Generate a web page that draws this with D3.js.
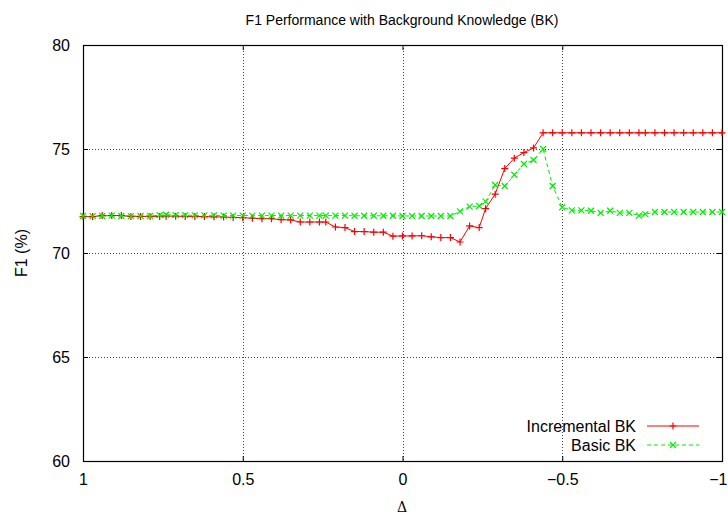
<!DOCTYPE html>
<html>
<head>
<meta charset="utf-8">
<script src="https://cdn.jsdelivr.net/npm/d3@7"></script>
<style>
  body { margin: 0; background: #fff; }
  svg text { font-family: "Liberation Sans", Arial, Helvetica, sans-serif; fill: #000; }
</style>
</head>
<body>
<svg id="chart" width="728" height="517"></svg>
<script>
// Delta values (x)
const deltas = [
  1, 0.97, 0.94, 0.91, 0.88, 0.85, 0.82, 0.79, 0.76,
  0.74, 0.71, 0.68, 0.65, 0.62, 0.59, 0.56, 0.53, 0.50,
  0.47, 0.44, 0.41, 0.38, 0.35, 0.32, 0.29, 0.26,
  0.24, 0.21, 0.18, 0.15, 0.12, 0.09, 0.06, 0.03, 0,
  -0.03, -0.06, -0.09, -0.12, -0.15, -0.18, -0.21, -0.24,
  -0.26, -0.29, -0.32, -0.35, -0.38, -0.41, -0.44, -0.47, -0.50,
  -0.53, -0.56, -0.59, -0.62, -0.65, -0.68, -0.71, -0.74,
  -0.76, -0.79, -0.82, -0.85, -0.88, -0.91, -0.94, -0.97, -1
];

const incrementalBK = [
  71.75, 71.75, 71.80, 71.80, 71.80, 71.76, 71.76, 71.76, 71.76,
  71.77, 71.77, 71.76, 71.76, 71.75, 71.74, 71.73, 71.71, 71.70,
  71.67, 71.65, 71.65, 71.60, 71.59, 71.49, 71.49, 71.49,
  71.49, 71.25, 71.22, 71.03, 71.03, 71.00, 71.00, 70.81, 70.82,
  70.82, 70.83, 70.78, 70.74, 70.74, 70.53, 71.30, 71.22,
  72.13, 72.83, 74.06, 74.56, 74.83, 75.05, 75.78, 75.78, 75.78,
  75.78, 75.78, 75.78, 75.78, 75.78, 75.78, 75.78, 75.78,
  75.78, 75.78, 75.78, 75.78, 75.78, 75.78, 75.78, 75.78, 75.78
];

const basicBK = [
  71.78, 71.77, 71.78, 71.80, 71.78, 71.77, 71.78, 71.78, 71.82,
  71.84, 71.82, 71.82, 71.81, 71.81, 71.81, 71.80, 71.80, 71.80,
  71.80, 71.80, 71.80, 71.80, 71.80, 71.80, 71.80, 71.80,
  71.80, 71.80, 71.80, 71.79, 71.79, 71.79, 71.79, 71.79, 71.78,
  71.78, 71.78, 71.78, 71.78, 71.78, 72.00, 72.23, 72.26,
  72.47, 73.27, 73.22, 73.76, 74.28, 74.47, 75.00, 73.22, 72.20,
  72.05, 72.05, 72.03, 71.93, 72.03, 71.93, 71.93, 71.80,
  71.87, 71.97, 71.97, 71.97, 71.97, 71.97, 71.97, 71.97, 71.97
];

const xTicks = [1, 0.5, 0, -0.5, -1];
const yTicks = [60, 65, 70, 75, 80];
const seriesNames = ['Incremental BK', 'Basic BK'];

const margin = {top: 45, right: 6, bottom: 56, left: 83};
const width = 728 - margin.left - margin.right;
const height = 517 - margin.top - margin.bottom;

const svg = d3.select('#chart');
const g = svg.append('g')
  .attr('transform', `translate(${margin.left},${margin.top})`);

const x = d3.scaleLinear().domain([1, -1]).range([0, width]);
const y = d3.scaleLinear().domain([60, 80]).range([height, 0]);

// dotted grid on the inner ticks only
g.append('g')
  .selectAll('line')
  .data(xTicks.slice(1, -1))
  .join('line')
  .attr('x1', d => Math.round(x(d)) + 0.5)
  .attr('x2', d => Math.round(x(d)) + 0.5)
  .attr('y1', 0)
  .attr('y2', height)
  .attr('stroke', '#444')
  .attr('stroke-dasharray', '1,2');

g.append('g')
  .selectAll('line')
  .data(yTicks.slice(1, -1))
  .join('line')
  .attr('y1', d => Math.round(y(d)) + 0.5)
  .attr('y2', d => Math.round(y(d)) + 0.5)
  .attr('x1', 0)
  .attr('x2', width)
  .attr('stroke', '#444')
  .attr('stroke-dasharray', '1,2');

// axes with inward ticks, mirrored on top and right
const xAxis = d3.axisBottom(x).tickValues(xTicks).tickSize(-5).tickPadding(13)
  .tickFormat(d3.format('~g'));
const yAxis = d3.axisLeft(y).tickValues(yTicks).tickSize(-5).tickPadding(13);

g.append('g')
  .attr('class', 'x axis')
  .attr('transform', `translate(0,${height})`)
  .call(xAxis);
g.append('g')
  .attr('class', 'y axis')
  .call(yAxis);
g.append('g')
  .call(d3.axisTop(x).tickValues(xTicks).tickSize(-5).tickFormat(''));
g.append('g')
  .attr('transform', `translate(${width},0)`)
  .call(d3.axisRight(y).tickValues(yTicks).tickSize(-5).tickFormat(''));

g.selectAll('.domain').remove();
g.selectAll('.tick line').attr('stroke', '#000');
g.selectAll('.tick text')
  .style('font-size', '16px')
  .style('font-family', '"Liberation Sans", Arial, sans-serif');

// the last x label sits against the right edge of the page
g.select('.x.axis').selectAll('.tick text')
  .filter(d => d === -1)
  .attr('text-anchor', 'end')
  .attr('dx', 5);

g.append('rect')
  .attr('x', 0.5)
  .attr('y', 0.5)
  .attr('width', width)
  .attr('height', height)
  .attr('fill', 'none')
  .attr('stroke', '#000')
  .attr('stroke-width', 1.2);

// series
const redColor = '#ff0000';
const greenColor = '#00ee00';

const line = d3.line()
  .x((d, i) => x(deltas[i]))
  .y(d => y(d));

g.append('path')
  .datum(incrementalBK)
  .attr('fill', 'none')
  .attr('stroke', redColor)
  .attr('stroke-width', 1)
  .attr('d', line);

g.append('path')
  .datum(basicBK)
  .attr('fill', 'none')
  .attr('stroke', greenColor)
  .attr('stroke-width', 1)
  .attr('stroke-dasharray', '4,3')
  .attr('d', line);

const plusPath = 'M-3.5,0H3.5M0,-3.5V3.5';
const crossPath = 'M-3,-3L3,3M-3,3L3,-3';

g.append('g')
  .selectAll('path')
  .data(incrementalBK)
  .join('path')
  .attr('transform', (d, i) => `translate(${x(deltas[i])},${y(d)})`)
  .attr('d', plusPath)
  .attr('stroke', redColor)
  .attr('stroke-width', 1.2);

g.append('g')
  .selectAll('path')
  .data(basicBK)
  .join('path')
  .attr('transform', (d, i) => `translate(${x(deltas[i])},${y(d)})`)
  .attr('d', crossPath)
  .attr('stroke', greenColor)
  .attr('stroke-width', 1.2);

// legend
const legend = svg.append('g');
const legendRows = [
  {name: seriesNames[0], color: redColor, dash: null, marker: plusPath, y: 426},
  {name: seriesNames[1], color: greenColor, dash: '4,3', marker: crossPath, y: 445}
];
legendRows.forEach(row => {
  legend.append('text')
    .attr('x', 636)
    .attr('y', row.y + 6)
    .attr('text-anchor', 'end')
    .style('font-size', '16px')
    .text(row.name);
  legend.append('line')
    .attr('x1', 647)
    .attr('x2', 699)
    .attr('y1', row.y)
    .attr('y2', row.y)
    .attr('stroke', row.color)
    .attr('stroke-dasharray', row.dash);
  legend.append('path')
    .attr('transform', `translate(673,${row.y})`)
    .attr('d', row.marker)
    .attr('stroke', row.color)
    .attr('stroke-width', 1.2);
});

// titles
svg.append('text')
  .attr('x', 402)
  .attr('y', 25)
  .attr('text-anchor', 'middle')
  .style('font-size', '14px')
  .text('F1 Performance with Background Knowledge (BK)');

svg.append('text')
  .attr('transform', 'translate(27,253) rotate(-90)')
  .attr('text-anchor', 'middle')
  .style('font-size', '16px')
  .text('F1 (%)');

svg.append('text')
  .attr('x', 402)
  .attr('y', 512)
  .attr('text-anchor', 'middle')
  .style('font-size', '14px')
  .style('font-family', '"DejaVu Serif", serif')
  .text('Δ');
</script>
</body>
</html>
